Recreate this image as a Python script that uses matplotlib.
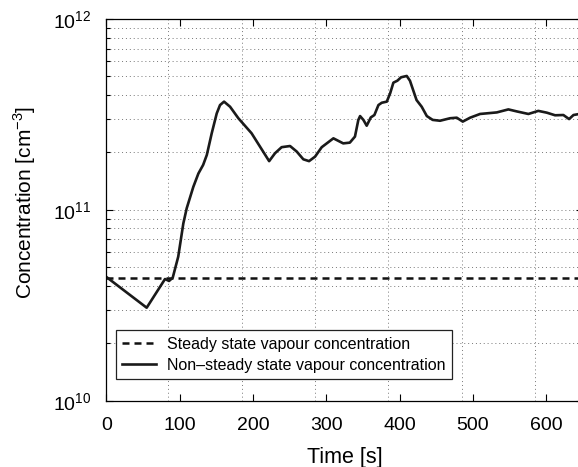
import numpy as np
import matplotlib
matplotlib.use("Agg")
import matplotlib.pyplot as plt
from matplotlib import ticker

plt.rcParams['font.family'] = ['Liberation Sans', 'DejaVu Sans']
plt.rcParams['mathtext.fontset'] = 'custom'
plt.rcParams['mathtext.rm'] = 'Liberation Sans'

# tiempo [s] y concentracion [cm^-3]
tiempo = [0, 55, 80, 85.5, 90.5, 98, 105, 109.6, 118.6, 125.5, 132, 137, 143.7,
          150.5, 155, 160.5, 168.7, 180, 198, 222, 230, 239, 250.5, 259.6,
          268.6, 276.4, 284.6, 293.7, 309.6, 323, 332, 339, 343.6, 346, 350.5,
          355, 360.6, 365.5, 371, 375.5, 382.4, 387, 391.4, 396.8, 401.9,
          409.6, 414, 423, 430, 437, 445, 455, 468.7, 477.8, 486, 496, 509.6,
          532.4, 548.2, 559.6, 575.5, 589, 600.6, 611.9, 623.2, 631, 637, 645]
conc_no_estacionaria = [4.45e10, 3.07e10, 4.34e10, 4.24e10, 4.41e10, 5.68e10,
                        8.50e10, 1.02e11, 1.32e11, 1.55e11, 1.72e11, 1.94e11,
                        2.52e11, 3.20e11, 3.54e11, 3.69e11, 3.47e11, 3.02e11,
                        2.52e11, 1.80e11, 1.98e11, 2.13e11, 2.16e11, 2.02e11,
                        1.84e11, 1.80e11, 1.90e11, 2.13e11, 2.37e11, 2.23e11,
                        2.25e11, 2.42e11, 2.96e11, 3.10e11, 2.96e11, 2.76e11,
                        3.05e11, 3.14e11, 3.54e11, 3.64e11, 3.69e11, 4.08e11,
                        4.64e11, 4.75e11, 4.95e11, 5.03e11, 4.75e11, 3.76e11,
                        3.47e11, 3.10e11, 2.96e11, 2.93e11, 3.02e11, 3.04e11,
                        2.90e11, 3.04e11, 3.18e11, 3.24e11, 3.36e11, 3.28e11,
                        3.18e11, 3.30e11, 3.23e11, 3.13e11, 3.14e11, 2.99e11,
                        3.14e11, 3.18e11]
conc_estacionaria = 4.4e10

etiquetas = ['Steady state vapour concentration',
             'Non\u2013steady state vapour concentration']

fig = plt.figure(figsize=(5.78, 4.67), dpi=100)
ax = fig.add_axes([0.184, 0.142, 0.8247, 0.8173])

ax.plot([0, 650], [conc_estacionaria, conc_estacionaria], color='#111111',
        lw=1.8, dashes=(2.8, 2.0), label=etiquetas[0])
ax.plot(tiempo, conc_no_estacionaria, color='#1a1a1a', lw=1.9,
        solid_joinstyle='round', label=etiquetas[1])

ax.set_yscale('log')
ax.set_ylim(1e10, 1e12)
ax.set_xlim(0, 650)
ax.xaxis.set_major_locator(ticker.MultipleLocator(100))
ax.xaxis.set_minor_locator(ticker.MultipleLocator(100, offset=84.5))
ax.yaxis.set_major_locator(ticker.LogLocator(base=10, numticks=5))
ax.yaxis.set_minor_locator(ticker.LogLocator(base=10, subs=np.arange(2, 10), numticks=20))

ax.tick_params(which='both', direction='in', top=True, right=True,
               labelsize=14, width=0.8)
ax.tick_params(which='major', length=5)
ax.tick_params(axis='y', which='minor', length=3)
ax.tick_params(axis='x', which='minor', length=0)
ax.tick_params(axis='y', pad=11)
ax.tick_params(axis='x', pad=12)

ax.grid(True, which='both', axis='y', linestyle=(0, (1, 3)), color='#777777', lw=0.7)
ax.grid(True, which='minor', axis='x', linestyle=(0, (1, 3)), color='#777777', lw=0.7)

for s in ax.spines.values():
    s.set_linewidth(0.9)

ax.set_xlabel('Time [s]', fontsize=15.5, labelpad=9)
ax.set_ylabel('Concentration [cm$^{-3}$]', fontsize=15)
ax.yaxis.set_label_coords(-0.144, 0.52)

leg = ax.legend(loc='lower left', bbox_to_anchor=(0.0203, 0.056),
                borderaxespad=0, fontsize=11.5, fancybox=False, framealpha=1,
                edgecolor='#222222', handlelength=2.1, handletextpad=0.7,
                borderpad=0.4, labelspacing=0.4)
leg.get_frame().set_linewidth(0.9)

fig.savefig('out.png', dpi=100)
